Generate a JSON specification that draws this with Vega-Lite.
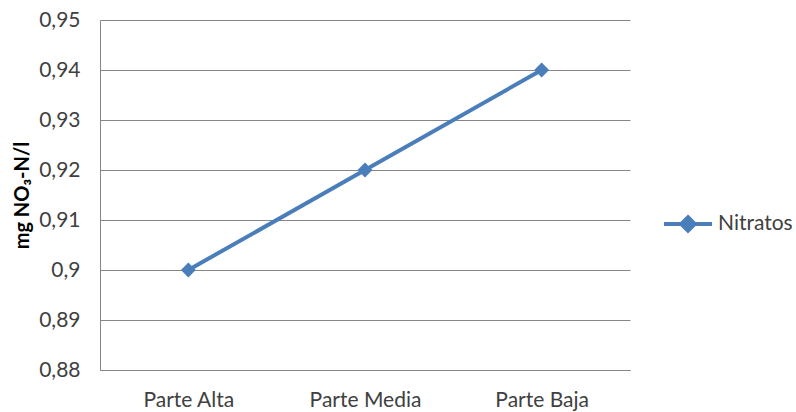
{
  "$schema": "https://vega.github.io/schema/vega-lite/v6.json",
  "width": 530,
  "height": 350,
  "autosize": "none",
  "padding": {"left": 100, "top": 20, "right": 166, "bottom": 42},
  "background": "white",
  "config": {
    "view": {"stroke": null},
    "font": "Lato"
  },
  "data": {
    "values": [
      {"parte": "Parte Alta", "serie": "Nitratos", "valor": 0.90},
      {"parte": "Parte Media", "serie": "Nitratos", "valor": 0.92},
      {"parte": "Parte Baja", "serie": "Nitratos", "valor": 0.94}
    ]
  },
  "mark": {
    "type": "line",
    "strokeWidth": 4,
    "point": {"shape": "diamond", "size": 220, "filled": true, "opacity": 1}
  },
  "encoding": {
    "x": {
      "field": "parte",
      "type": "nominal",
      "sort": null,
      "scale": {"type": "point", "padding": 0.5},
      "axis": {
        "title": null,
        "labelAngle": 0,
        "labelFontSize": 21,
        "labelColor": "#404040",
        "labelPadding": 19,
        "ticks": false,
        "grid": false,
        "domainColor": "#868686",
        "domainWidth": 1
      }
    },
    "y": {
      "field": "valor",
      "type": "quantitative",
      "scale": {"domain": [0.88, 0.95], "zero": false, "nice": false},
      "axis": {
        "title": "mg NO₃-N/l",
        "titleFontSize": 20,
        "titleFontWeight": "bold",
        "titleColor": "#000000",
        "titlePadding": 6,
        "values": [0.88, 0.89, 0.9, 0.91, 0.92, 0.93, 0.94, 0.95],
        "labelExpr": "replace(toString(round(datum.value * 100) / 100), '.', ',')",
        "labelFontSize": 21,
        "labelColor": "#404040",
        "labelPadding": 20,
        "ticks": false,
        "grid": true,
        "gridColor": "#868686",
        "gridWidth": 1,
        "domainColor": "#868686",
        "domainWidth": 1
      }
    },
    "color": {
      "field": "serie",
      "type": "nominal",
      "scale": {"range": ["#4A7EBB"]},
      "legend": {
        "title": null,
        "orient": "none",
        "legendX": 562,
        "legendY": 178,
        "symbolType": "M-1,0L1,0M0,-0.28L0.28,0L0,0.28L-0.28,0Z",
        "symbolSize": 2300,
        "symbolStrokeWidth": 4,
        "symbolFillColor": "#4A7EBB",
        "symbolStrokeColor": "#4A7EBB",
        "labelFontSize": 21,
        "labelColor": "#404040",
        "labelOffset": 4
      }
    }
  }
}
